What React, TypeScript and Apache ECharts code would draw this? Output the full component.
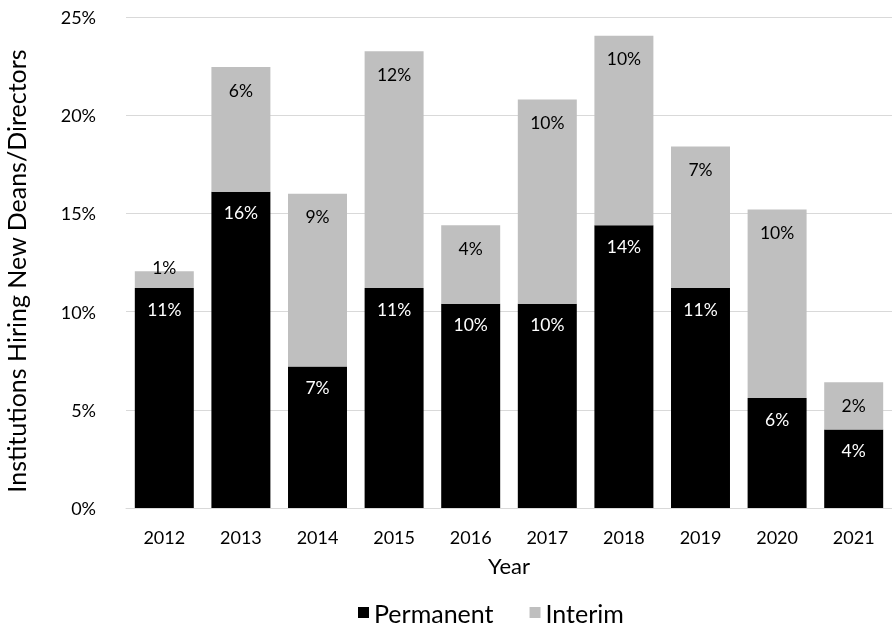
import React, { useEffect, useRef } from "react";
import * as echarts from "echarts";

const years = ["2012", "2013", "2014", "2015", "2016", "2017", "2018", "2019", "2020", "2021"];
const permanent = [11.2, 16.1, 7.2, 11.2, 10.4, 10.4, 14.4, 11.2, 5.6, 4.0];
const interim = [0.85, 6.35, 8.8, 12.05, 4.0, 10.4, 9.65, 7.2, 9.6, 2.4];
const yTitle = "Institutions Hiring New Deans/Directors";

const FONT = "Lato";

export default function App() {
  const ref = useRef<HTMLDivElement>(null);
  useEffect(() => {
    if (!ref.current) return;
    const chart = echarts.init(ref.current, null, { renderer: "svg" });
    const fmt = (p: any) => Math.round(p.value) + "%";
    chart.setOption({
      animation: false,
      textStyle: { fontFamily: FONT },
      grid: { left: 126, right: 0, top: 17, bottom: 119 },
      graphic: [
        {
          type: "text",
          x: 16,
          y: 271,
          rotation: Math.PI / 2,
          style: {
            text: yTitle,
            fontFamily: FONT,
            fontSize: 25,
            fill: "#000",
            align: "center",
            verticalAlign: "middle",
          },
        },
      ],
      legend: {
        bottom: -3,
        left: 353,
        icon: "rect",
        itemWidth: 11,
        itemHeight: 11,
        itemGap: 36,
        textStyle: { fontFamily: FONT, fontSize: 25, color: "#000" },
        data: ["Permanent", "Interim"],
      },
      xAxis: {
        type: "category",
        data: years,
        name: "Year",
        nameLocation: "middle",
        nameGap: 46,
        nameTextStyle: { fontFamily: FONT, fontSize: 22, color: "#000" },
        axisLine: { show: true, lineStyle: { color: "#d9d9d9" } },
        axisTick: { show: false },
        axisLabel: { fontFamily: FONT, fontSize: 18, color: "#000", margin: 20 },
      },
      yAxis: {
        type: "value",
        min: 0,
        max: 25,
        interval: 5,
        axisLine: { show: false },
        axisTick: { show: false },
        axisLabel: { fontFamily: FONT, fontSize: 18, color: "#000", margin: 30, formatter: "{value}%" },
        splitLine: { lineStyle: { color: "#d9d9d9" } },
      },
      series: [
        {
          name: "Permanent",
          type: "bar",
          stack: "total",
          barWidth: "77%",
          itemStyle: { color: "#000000" },
          label: {
            show: true,
            position: "insideTop",
            distance: 12,
            color: "#fff",
            fontFamily: FONT,
            fontSize: 17.5,
            formatter: fmt,
          },
          data: permanent,
        },
        {
          name: "Interim",
          type: "bar",
          stack: "total",
          barWidth: "77%",
          itemStyle: { color: "#bfbfbf" },
          label: {
            show: true,
            position: "insideTop",
            distance: 14,
            color: "#000",
            fontFamily: FONT,
            fontSize: 17.5,
            formatter: fmt,
          },
          data: interim.map((v) =>
            v < 2 ? { value: v, label: { position: "top", distance: -5 } } : v
          ),
        },
      ],
    });
    return () => chart.dispose();
  }, []);
  return (
    <div
      ref={ref}
      style={{ position: "fixed", left: 0, top: 0, width: 892, height: 627 }}
    />
  );
}
